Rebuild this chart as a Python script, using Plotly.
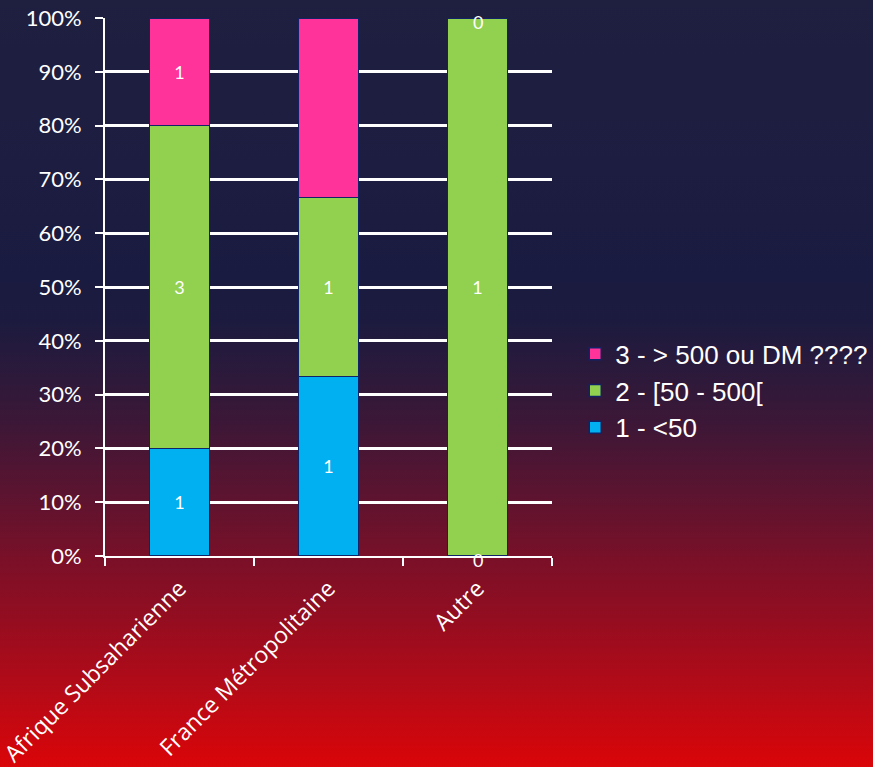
import base64
import plotly.graph_objects as go

categories = ["Afrique Subsaharienne", "France Métropolitaine", "Autre"]
series_names = ["1 - <50", "2 - [50 - 500[", "3 - > 500 ou DM ????"]
counts_low = [1, 1, 0]
counts_mid = [3, 1, 1]
counts_high = [1, 1, 0]
series_colors = ["#00B0F0", "#92D050", "#FF3399"]
# labels that are not printed in the original
hidden_labels = [("3 - > 500 ou DM ????", "France Métropolitaine")]

W, H = 873, 767
L, R, T, B = 105, 321, 18, 211

series = [counts_low, counts_mid, counts_high]
totals = [sum(s[i] for s in series) for i in range(len(categories))]

fig = go.Figure()
for name, vals, col in zip(series_names, series, series_colors):
    text = ["" if (name, c) in hidden_labels or v == 0 else str(v)
            for c, v in zip(categories, vals)]
    fig.add_trace(go.Bar(
        x=categories, y=vals, name=name, legendgroup=name,
        marker=dict(color=col, line=dict(color="#112266", width=1.5)),
        text=text, textposition="inside", insidetextanchor="middle",
        textangle=0, constraintext="none",
        textfont=dict(color="white", size=18, family="Lato"),
        hoverinfo="x+y+name",
    ))

# zero values get their label on the boundary, like in the original
for k, vals in enumerate(series):
    for i, v in enumerate(vals):
        if v == 0 and totals[i] > 0:
            base = sum(series[j][i] for j in range(k)) / totals[i] * 100
            fig.add_annotation(x=categories[i], y=base, text="0", showarrow=False,
                               yshift=-4, font=dict(color="white", size=18, family="Lato"))

# gradient background (navy -> red)
stops = [(0, "#1F2040"), (0.36, "#1A1B40"), (0.42, "#1C1B3F"), (0.5, "#2F193A"),
         (0.55, "#3C1737"), (0.64, "#5A1430"), (0.73, "#7A1028"), (0.81, "#950D20"),
         (0.91, "#B80A16"), (1, "#DA0508")]
svg = ('<svg xmlns="http://www.w3.org/2000/svg" width="%d" height="%d" preserveAspectRatio="none">'
       '<defs><linearGradient id="g" x1="0" y1="0" x2="0" y2="1">' % (W, H)
       + "".join('<stop offset="%s" stop-color="%s"/>' % s for s in stops)
       + '</linearGradient></defs><rect width="100%" height="100%" fill="url(#g)"/></svg>')
src = "data:image/svg+xml;base64," + base64.b64encode(svg.encode()).decode()
pw, ph = W - L - R, H - T - B
fig.add_layout_image(dict(source=src, xref="paper", yref="paper",
                          x=-L / pw, y=1 + T / ph, sizex=W / pw, sizey=H / ph,
                          xanchor="left", yanchor="top", sizing="stretch", layer="below"))

fig.update_layout(
    width=W, height=H, autosize=False,
    barmode="stack", barnorm="percent", bargap=0.6,
    paper_bgcolor="#1E1F40", plot_bgcolor="rgba(0,0,0,0)",
    margin=dict(l=L, r=R, t=T, b=B, autoexpand=False),
    font=dict(color="white", family="Lato"),
    legend=dict(x=1.052, xanchor="left", y=0.307, yanchor="middle",
                traceorder="reversed", tracegroupgap=40,
                font=dict(family="Liberation Sans, Arial", size=26, color="white"),
                bgcolor="rgba(0,0,0,0)"),
)
fig.update_yaxes(range=[0, 100], dtick=10, ticksuffix="%", automargin=False,
                 showgrid=True, gridcolor="white", gridwidth=2.5,
                 showline=True, linecolor="white", linewidth=2,
                 ticks="outside", ticklen=8, tickcolor="white", tickwidth=2,
                 ticklabelstandoff=9,
                 tickfont=dict(size=22, color="white", family="Lato"), zeroline=False)
fig.update_xaxes(showline=True, linecolor="white", linewidth=2, automargin=False,
                 ticks="outside", tickson="boundaries", ticklen=8, tickcolor="white", tickwidth=2,
                 ticklabelstandoff=8,
                 tickangle=-45, tickfont=dict(size=23, color="white", family="Open Sans"))

fig.write_html("out.html", config={"displayModeBar": False, "responsive": False})

# no page margin, so the figure fills the window
with open("out.html", encoding="utf-8") as f:
    page = f.read()
page = page.replace("<body>", '<body style="margin:0;overflow:hidden;background:#1E1F40">', 1)
with open("out.html", "w", encoding="utf-8") as f:
    f.write(page)
